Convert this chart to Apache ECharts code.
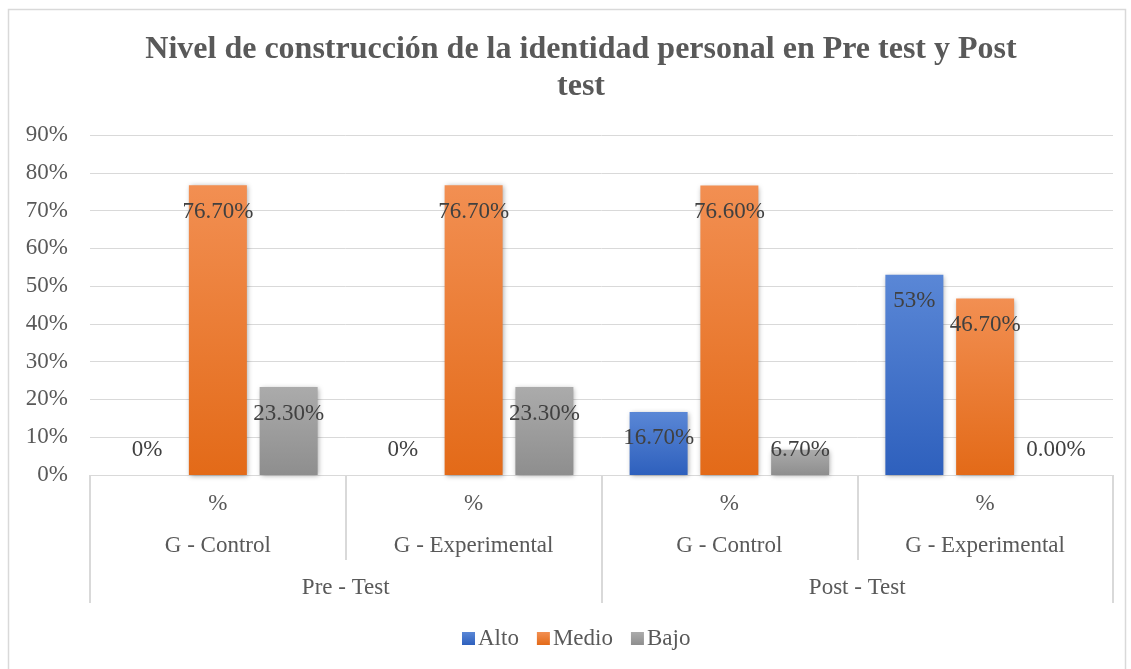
<!DOCTYPE html>
<html>
<head>
<meta charset="utf-8">
<script src="https://cdn.jsdelivr.net/npm/echarts@6/dist/echarts.min.js"></script>
<style>
  html, body { margin: 0; padding: 0; background: #fff; }
  #chart { width: 1131px; height: 669px; }
</style>
</head>
<body>
<div id="chart"></div>
<script>
// data
const groups = ['G - Control', 'G - Experimental', 'G - Control', 'G - Experimental'];
const phases = ['Pre - Test', 'Post - Test'];
const unitLabels = ['%', '%', '%', '%'];
const seriesNames = ['Alto', 'Medio', 'Bajo'];

const altoValues = [0, 0, 0.167, 0.53];
const medioValues = [0.767, 0.767, 0.766, 0.467];
const bajoValues = [0.233, 0.233, 0.067, 0];

// labels as printed on the chart
const altoLabels = ['0%', '0%', '16.70%', '53%'];
const medioLabels = ['76.70%', '76.70%', '76.60%', '46.70%'];
const bajoLabels = ['23.30%', '23.30%', '6.70%', '0.00%'];

const yTicks = [0, 0.1, 0.2, 0.3, 0.4, 0.5, 0.6, 0.7, 0.8, 0.9];

const FONT = '"Liberation Serif", "Times New Roman", serif';
const TEXT = '#595959';

const grad = (top, bottom) => new echarts.graphic.LinearGradient(0, 0, 0, 1, [
  { offset: 0, color: top },
  { offset: 1, color: bottom },
]);

const COLORS = [
  grad('#5a87d6', '#2e60bd'),
  grad('#f28f52', '#e36a18'),
  grad('#ababab', '#8e8e8e'),
];

const chart = echarts.init(document.getElementById('chart'));

// small bars get their label above the axis, the rest inside the top
const makeData = (values, labels) => values.map((v, i) => ({
  value: v,
  label: v < 0.1
    ? { position: 'insideBottom', distance: 14, formatter: labels[i] }
    : { position: 'insideTop', distance: 15, formatter: labels[i] },
}));

const makeSeries = (name, values, labels, idx) => ({
  name: name,
  type: 'bar',
  xAxisIndex: 0,
  barWidth: 58,
  barGap: '22%',
  itemStyle: {
    color: COLORS[idx],
    shadowBlur: 5,
    shadowColor: 'rgba(0,0,0,0.35)',
    shadowOffsetX: 1,
    shadowOffsetY: 1,
  },
  label: {
    show: true,
    fontFamily: FONT,
    fontSize: 23,
    color: '#404040',
  },
  data: makeData(values, labels),
});

const option = {
  animation: false,
  backgroundColor: '#fff',
  color: COLORS,
  title: {
    text: 'Nivel de construcción de la identidad personal en Pre test y Post\ntest',
    left: 576,
    textAlign: 'center',
    top: 26,
    textStyle: {
      fontFamily: FONT,
      fontSize: 32,
      fontWeight: 'bold',
      color: TEXT,
      lineHeight: 37,
    },
  },
  legend: {
    top: 622,
    left: 457,
    itemWidth: 13,
    itemHeight: 13,
    itemGap: 18,
    icon: 'rect',
    textStyle: { fontFamily: FONT, fontSize: 23, color: TEXT, padding: [0, 0, 0, -2] },
    data: seriesNames,
  },
  grid: { left: 90, right: 18, top: 135, bottom: 194 },
  xAxis: [
    {
      type: 'category',
      data: unitLabels,
      position: 'bottom',
      axisLine: { show: true, lineStyle: { color: '#d9d9d9', width: 1 } },
      axisTick: { show: false },
      axisLabel: { fontFamily: FONT, fontSize: 23, color: TEXT, margin: 17 },
    },
    {
      type: 'category',
      data: groups,
      position: 'bottom',
      axisLine: { show: false },
      axisTick: { show: true, length: 85, interval: 0, lineStyle: { color: '#d9d9d9', width: 2 } },
      axisLabel: { fontFamily: FONT, fontSize: 23, color: TEXT, margin: 59, interval: 0 },
    },
    {
      type: 'category',
      data: phases,
      position: 'bottom',
      axisLine: { show: false },
      axisTick: { show: true, length: 128, interval: 0, lineStyle: { color: '#d9d9d9', width: 2 } },
      axisLabel: { fontFamily: FONT, fontSize: 23, color: TEXT, margin: 101, interval: 0 },
    },
  ],
  yAxis: {
    type: 'value',
    min: yTicks[0],
    max: yTicks[yTicks.length - 1],
    interval: 0.1,
    axisLine: { show: false },
    axisTick: { show: false },
    splitLine: { lineStyle: { color: '#d9d9d9', width: 1 } },
    axisLabel: {
      fontFamily: FONT,
      fontSize: 23,
      color: TEXT,
      margin: 22,
      formatter: (v) => Math.round(v * 100) + '%',
    },
  },
  graphic: [
    {
      type: 'rect',
      shape: { x: 8.5, y: 9.5, width: 1117, height: 680 },
      style: { fill: 'none', stroke: '#d9d9d9', lineWidth: 1.5 },
      silent: true,
      z: -1,
    },
  ],
  series: [
    makeSeries('Alto', altoValues, altoLabels, 0),
    makeSeries('Medio', medioValues, medioLabels, 1),
    makeSeries('Bajo', bajoValues, bajoLabels, 2),
  ],
};

chart.setOption(option);
</script>
</body>
</html>
